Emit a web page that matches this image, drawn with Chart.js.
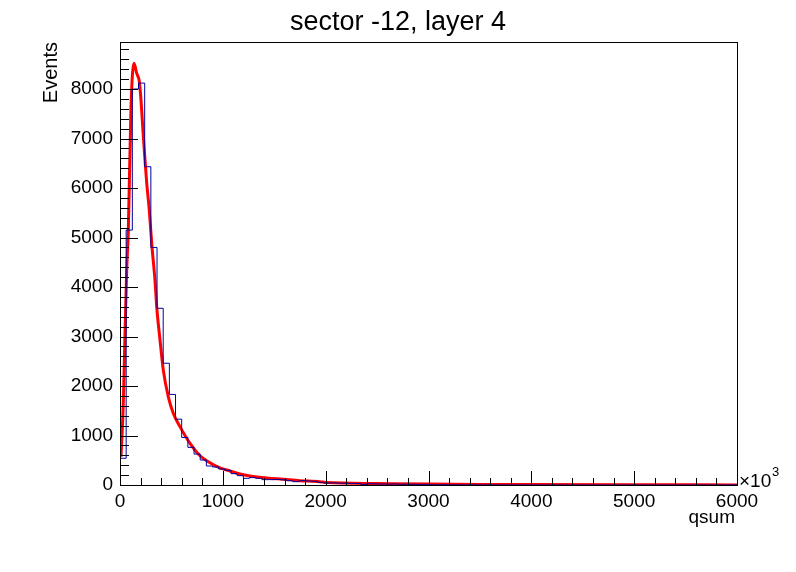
<!DOCTYPE html>
<html>
<head>
<meta charset="utf-8">
<script src="https://cdn.jsdelivr.net/npm/chart.js@4"></script>
<style>
  html, body { margin: 0; padding: 0; background: #fff; }
  #wrap { width: 796px; height: 572px; }
</style>
</head>
<body>
<div id="wrap"><canvas id="hist"></canvas></div>
<script>
// histogram: 100 bins of 60 (x10^3) from 0 to 6000
const binWidth = 60;
const counts = [
    540, 5150, 8000, 8120, 6430, 4800, 3570, 2460, 1830, 1330,
    960, 760, 625, 505, 384, 364, 323, 296, 229, 189,
    135, 150, 135, 108, 108, 112, 105, 88, 67, 88,
    80, 75, 54, 40, 42, 38, 36, 32, 30, 13,
    25, 22, 20, 18, 20, 15, 16, 14, 12, 14,
    5, 4, 6, 3, 4, 2, 3, 2, 1, 2,
    1, 2, 1, 0, 1, 1, 0, 1, 0, 0,
    0, 1, 0, 0, 0, 0, 1, 0, 0, 0,
    0, 0, 0, 0, 0, 0, 0, 0, 0, 0,
    0, 0, 0, 0, 0, 0, 0, 0, 0, 3
];

// fitted curve
const fitX = [10, 32, 49, 65, 81, 107, 136, 162, 188, 204, 221, 236, 260, 282, 299, 311,
    340, 357, 389, 421, 470, 518, 583, 681, 778, 875, 972, 1070, 1167, 1264, 1427, 1588,
    1750, 1945, 2000, 2500, 3000, 3500, 4000, 5000, 6000];
const fitY = [570, 1650, 3070, 4340, 5150, 7640, 8520, 8320, 8150, 7780, 7240, 6770, 6095, 5620, 5150, 4810,
    4140, 3600, 2930, 2320, 1780, 1450, 1180, 840, 590, 450, 345, 283, 222, 182, 141, 115,
    87, 67, 50, 30, 20, 12, 8, 4, 2];

const xTicks = [0, 1000, 2000, 3000, 4000, 5000, 6000];
const yTicks = [0, 1000, 2000, 3000, 4000, 5000, 6000, 7000, 8000];

const title = 'sector -12, layer 4';
const xTitle = 'qsum';
const yTitle = 'Events';

Chart.defaults.font.family = '"Liberation Sans", Arial, sans-serif';
Chart.defaults.color = '#000';

// step points at the bin edges, each bin flat from its low edge
const histPoints = counts.map((c, i) => ({ x: i * binWidth, y: c }));
histPoints.push({ x: counts.length * binWidth, y: counts[counts.length - 1] });
const fitPoints = fitX.map((x, i) => ({ x: x, y: fitY[i] }));

// frame, inward ticks and the texts, drawn the ROOT way
const rootFrame = {
    id: 'rootFrame',
    afterDraw(chart) {
        const ctx = chart.ctx;
        const a = chart.chartArea;
        const xs = chart.scales.x, ys = chart.scales.y;
        ctx.save();
        ctx.strokeStyle = '#000';
        ctx.lineWidth = 1;
        ctx.strokeRect(Math.round(a.left) + 0.5, Math.round(a.top) + 0.5,
            Math.round(a.right - a.left), Math.round(a.bottom - a.top));

        ctx.beginPath();
        for (let v = 0; v <= xs.max; v += 200) {
            const px = Math.round(xs.getPixelForValue(v)) + 0.5;
            const len = v % 1000 === 0 ? 14 : 7;
            ctx.moveTo(px, a.bottom);
            ctx.lineTo(px, a.bottom - len);
        }
        for (let v = 0; v <= ys.max; v += 200) {
            const py = Math.round(ys.getPixelForValue(v)) + 0.5;
            const len = v % 1000 === 0 ? 18 : 9;
            ctx.moveTo(a.left, py);
            ctx.lineTo(a.left + len, py);
        }
        ctx.stroke();

        ctx.fillStyle = '#000';
        ctx.font = '27px "Liberation Sans", Arial, sans-serif';
        ctx.textAlign = 'center';
        ctx.textBaseline = 'alphabetic';
        ctx.fillText(title, chart.width / 2, 30);

        ctx.font = '19px "Liberation Sans", Arial, sans-serif';
        ctx.textAlign = 'right';
        ctx.fillText(xTitle, a.right - 2, 523);

        ctx.textAlign = 'left';
        ctx.fillText('\u00d710', a.right + 2, 487);
        ctx.font = '13px "Liberation Sans", Arial, sans-serif';
        ctx.fillText('3', a.right + 35, 476);

        ctx.translate(57, a.top);
        ctx.rotate(-Math.PI / 2);
        ctx.font = '20px "Liberation Sans", Arial, sans-serif';
        ctx.textAlign = 'right';
        ctx.fillText(yTitle, 0, 0);
        ctx.restore();
    }
};

new Chart(document.getElementById('hist'), {
    type: 'line',
    data: {
        datasets: [
            {
                label: 'qsum',
                data: histPoints,
                stepped: 'before',
                borderColor: '#0000a0',
                borderWidth: 1,
                pointRadius: 0,
                fill: false
            },
            {
                label: 'fit',
                data: fitPoints,
                borderColor: '#ff0000',
                borderWidth: 3,
                pointRadius: 0,
                cubicInterpolationMode: 'monotone',
                fill: false
            }
        ]
    },
    options: {
        responsive: true,
        maintainAspectRatio: false,
        animation: false,
        layout: { padding: { left: 0, top: 42, right: 59, bottom: 0 } },
        plugins: {
            legend: { display: false },
            tooltip: { enabled: false }
        },
        scales: {
            x: {
                type: 'linear',
                min: 0,
                max: 6000,
                afterBuildTicks: s => { s.ticks = xTicks.map(v => ({ value: v })); },
                afterFit: s => { s.height = 87; },
                grid: { display: false, drawTicks: false },
                border: { display: false },
                ticks: { font: { size: 19 }, padding: 5, maxRotation: 0, callback: v => String(v) }
            },
            y: {
                type: 'linear',
                min: 0,
                max: 8950,
                afterBuildTicks: s => { s.ticks = yTicks.map(v => ({ value: v })); },
                afterFit: s => { s.width = 120; },
                grid: { display: false, drawTicks: false },
                border: { display: false },
                ticks: { font: { size: 19 }, padding: 7, callback: v => String(v) }
            }
        }
    },
    plugins: [rootFrame]
});
</script>
</body>
</html>
